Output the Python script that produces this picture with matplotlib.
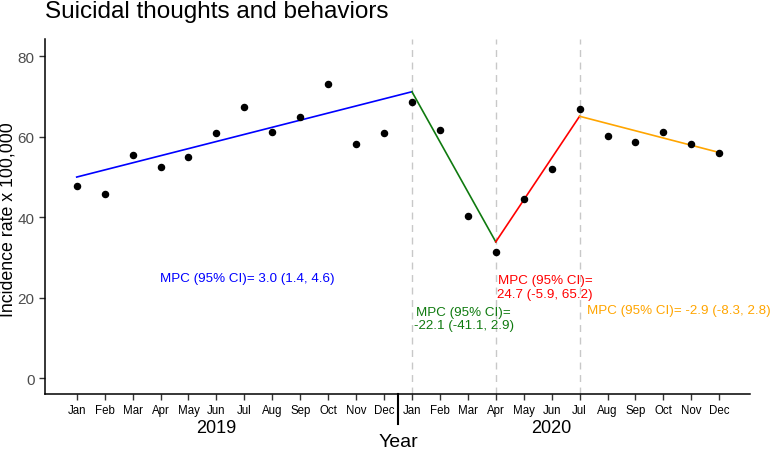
import matplotlib
matplotlib.use("Agg")
import matplotlib.pyplot as plt
from matplotlib.transforms import blended_transform_factory
from matplotlib.lines import Line2D

plt.rcParams['font.family'] = ['Liberation Sans', 'DejaVu Sans']

months = ["Jan", "Feb", "Mar", "Apr", "May", "Jun", "Jul", "Aug", "Sep", "Oct", "Nov", "Dec"]
years = ["2019", "2020"]
rate = [47.7, 45.8, 55.5, 52.5, 54.9, 61.0, 67.4, 61.3, 64.9, 73.1, 58.3, 61.0,
        68.6, 61.6, 40.4, 31.3, 44.5, 52.0, 66.9, 60.1, 58.8, 61.1, 58.1, 56.0]

# joinpoint segments: (start index, end index, start value, end value)
seg_x = [(0, 12), (12, 15), (15, 18), (18, 23)]
seg_y = [(50.0, 71.2), (71.2, 33.9), (33.9, 65.1), (65.1, 56.1)]
seg_colors = ["#0000FF", "#0F7A0F", "#FF0000", "#FFA500"]
joinpoints = [12, 15, 18]

labels = ["MPC (95% CI)= 3.0 (1.4, 4.6)",
          "MPC (95% CI)=\n-22.1 (-41.1, 2.9)",
          "MPC (95% CI)=\n24.7 (-5.9, 65.2)",
          "MPC (95% CI)= -2.9 (-8.3, 2.8)"]
label_x = [6.12, 13.85, 16.77, 21.55]
label_y = [24.9, 14.9, 22.7, 17.0]

W, H = 773, 452
fig = plt.figure(figsize=(W / 100, H / 100), dpi=100)
ax = fig.add_axes([45 / W, (H - 395) / H, (750 - 45) / W, (395 - 40) / H])

x = list(range(len(rate)))

for jp in joinpoints:
    ax.axvline(jp, color="#C8C8C8", lw=1.0, ls=(0, (5, 4)), zorder=1)

for (x0, x1), (y0, y1), c in zip(seg_x, seg_y, seg_colors):
    ax.plot([x0, x1], [y0, y1], color=c, lw=1.2, zorder=2)

ax.plot(x, rate, 'o', color="black", ms=4.4, zorder=3)

for t, tx, ty, c in zip(labels, label_x, label_y, seg_colors):
    ax.text(tx, ty, t, color=c, fontsize=9.6, ha="center", va="center", linespacing=1.15)

ax.set_xlim(-1.135, 24.1)
ax.set_ylim(-3.9, 84.3)
ax.set_xticks(x)
ax.set_xticklabels(months * 2, fontsize=8.3, color="black")
ax.set_yticks([0, 20, 40, 60, 80])
ax.set_yticklabels(["0", "20", "40", "60", "80"], fontsize=11, color="#4D4D4D")
ax.tick_params(axis="both", direction="out", length=4, width=1.0, color="#333333")
ax.tick_params(axis="x", pad=3)
for s in ["top", "right"]:
    ax.spines[s].set_visible(False)
for s in ["left", "bottom"]:
    ax.spines[s].set_linewidth(1.1)
    ax.spines[s].set_color("black")

tr = blended_transform_factory(ax.transData, fig.transFigure)
for i, yr in enumerate(years):
    ax.text(5 + 12 * i, 1 - 429 / H, yr, transform=tr, ha="center", va="center", fontsize=13)
ax.add_line(Line2D([11.5, 11.5], [1 - 395 / H, 1 - 425 / H], transform=tr, color="black",
                   lw=1.5, clip_on=False))
ax.text(11.5, 1 - 443 / H, "Year", transform=tr, ha="center", va="center", fontsize=14)

fig.text(8 / W, 1 - 220 / H, "Incidence rate x 100,000", rotation=90, ha="center", va="center",
         fontsize=12.8)
fig.text(45 / W, 1 - 12 / H, "Suicidal thoughts and behaviors", ha="left", va="center",
         fontsize=17.5)

fig.savefig("out.png", dpi=100)
